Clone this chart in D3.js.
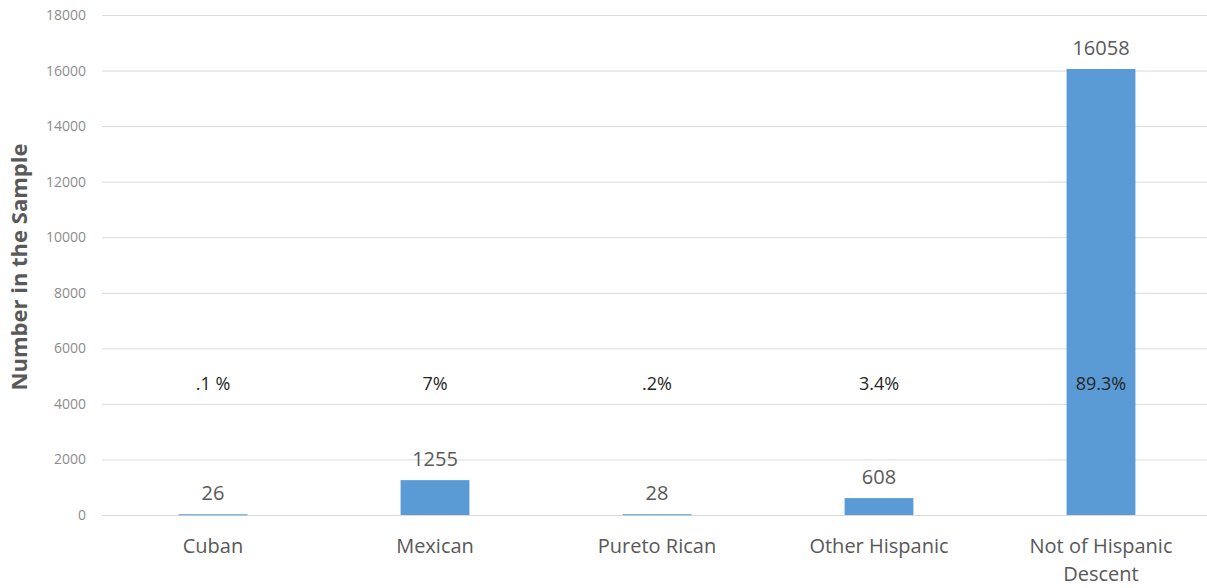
<!DOCTYPE html>
<html><head><meta charset="utf-8">
<script src="https://cdn.jsdelivr.net/npm/d3@7"></script>
<style>body{margin:0;background:#fff;} text{font-family:"Open Sans","Noto Sans",sans-serif;}</style>
</head><body><svg id="c" width="1207" height="588"></svg>
<script>
const categories = ["Cuban", "Mexican", "Pureto Rican", "Other Hispanic", "Not of Hispanic Descent"];
const values = [26, 1255, 28, 608, 16058];
const percentLabels = [".1 %", "7%", ".2%", "3.4%", "89.3%"];
const yTicks = [0, 2000, 4000, 6000, 8000, 10000, 12000, 14000, 16000, 18000];
const yTitle = "Number in the Sample";

const svg = d3.select("#c");
const x = d3.scaleBand().domain(categories).range([102, 1212]).paddingInner(0.69).paddingOuter(0.345);
const y = d3.scaleLinear().domain([0, 18000]).range([515, 15]);

// gridlines
svg.append("g").selectAll("line").data(yTicks).join("line")
  .attr("x1", 102).attr("x2", 1207)
  .attr("y1", d => y(d) + 0.5).attr("y2", d => y(d) + 0.5)
  .attr("stroke", "#d9d9d9").attr("stroke-width", 1);

// y tick labels
svg.append("g").selectAll("text").data(yTicks).join("text")
  .attr("x", 86).attr("y", d => y(d) + 5)
  .attr("text-anchor", "end").attr("font-size", 14).attr("fill", "#8c8c8c")
  .text(d => d);

// y title
svg.append("text").attr("transform", "translate(27,267) rotate(-90)")
  .attr("text-anchor", "middle").attr("font-size", 22).attr("font-weight", "bold").attr("fill", "#595959")
  .text(yTitle);

// bars
svg.append("g").selectAll("rect").data(values).join("rect")
  .attr("x", (d, i) => x(categories[i]))
  .attr("width", x.bandwidth())
  .attr("y", d => y(d))
  .attr("height", d => Math.max(1, y(0) - y(d)))
  .attr("fill", "#5b9bd5");

// value labels
svg.append("g").selectAll("text").data(values).join("text")
  .attr("x", (d, i) => x(categories[i]) + x.bandwidth() / 2)
  .attr("y", d => y(d) - 14)
  .attr("text-anchor", "middle").attr("font-size", 20).attr("fill", "#595959")
  .text(d => d);

// percent labels
svg.append("g").selectAll("text").data(percentLabels).join("text")
  .attr("x", (d, i) => x(categories[i]) + x.bandwidth() / 2)
  .attr("y", y(4500))
  .attr("text-anchor", "middle").attr("font-size", 18).attr("fill", "#262626")
  .text(d => d);

// category labels with wrapping
svg.append("g").selectAll("text").data(categories).join("text")
  .attr("x", d => x(d) + x.bandwidth() / 2)
  .attr("y", 553)
  .attr("text-anchor", "middle").attr("font-size", 20).attr("fill", "#595959")
  .each(function(d) {
    const t = d3.select(this);
    const lines = d === "Not of Hispanic Descent" ? ["Not of Hispanic", "Descent"] : [d];
    lines.forEach((l, i) => t.append("tspan").attr("x", x(d) + x.bandwidth() / 2).attr("dy", i ? 28 : 0).text(l));
  });
</script></body></html>
